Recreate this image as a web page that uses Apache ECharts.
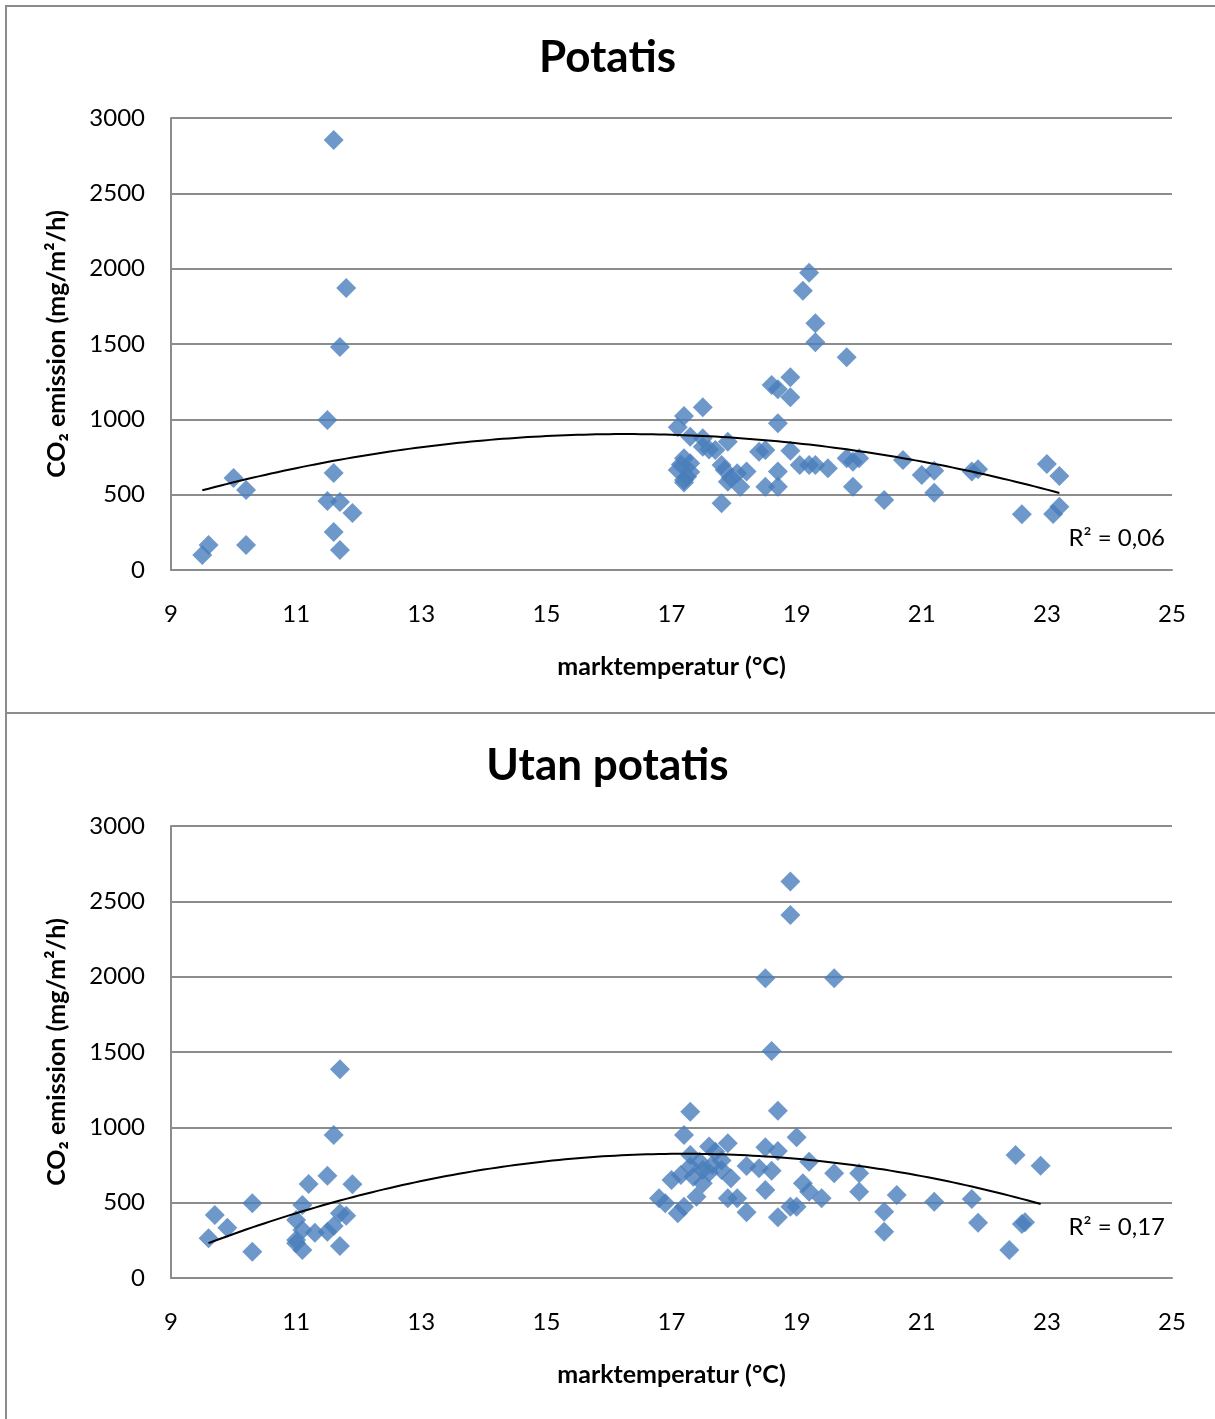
<!DOCTYPE html>
<html>
<head>
<meta charset="utf-8">
<script src="https://cdn.jsdelivr.net/npm/echarts@6/dist/echarts.min.js"></script>
<style>
  body { margin: 0; background: #fff; }
  .chart { position: absolute; left: 0; width: 1215px; }
  .line { position: absolute; background: #8c8c8c; }
</style>
</head>
<body>
<div id="Chart1" class="chart" style="top:0;height:713px"></div>
<div id="Chart2" class="chart" style="top:713px;height:706px"></div>
<div class="line" style="left:5px;top:5px;width:1210px;height:2px"></div>
<div class="line" style="left:5px;top:712px;width:1210px;height:2px"></div>
<div class="line" style="left:5px;top:5px;width:2px;height:1414px"></div>
<script>
// marktemperatur (°C) och CO2 emission (mg/m²/h)
const potatisTemp = [
  9.5, 9.6, 10.0, 10.2, 10.2, 11.6, 11.8, 11.7, 11.5, 11.6, 11.5, 11.7, 11.9, 11.6, 11.7,
  19.2, 19.1, 19.3, 19.3, 19.8, 18.9, 18.6, 18.7, 18.9, 17.5, 17.2, 17.1, 18.7, 17.3, 17.5,
  17.9, 17.7, 17.2, 18.4, 18.5, 18.9, 19.05, 17.8, 17.85, 18.2, 18.7, 17.1, 17.25, 17.3, 17.9,
  18.1, 18.5, 18.7, 17.8, 17.2, 19.3, 19.2, 19.5, 19.8, 19.9, 20.0, 19.9, 20.4, 20.7, 21.0,
  21.2, 21.2, 21.8, 21.9, 22.6, 23.0, 23.2, 23.1, 23.2, 17.3, 17.15, 17.5, 17.6, 18.05,
  17.2, 17.95
];
const potatisCO2 = [
  100, 166, 611, 531, 166, 2854, 1872, 1480, 996, 644, 458, 451, 378, 252, 133,
  1973, 1854, 1637, 1511, 1412, 1279, 1228, 1199, 1146, 1080, 1022, 947, 974, 885, 874,
  852, 796, 741, 785, 796, 792, 697, 697, 664, 653, 653, 664, 619, 708, 586,
  553, 553, 553, 443, 597, 697, 697, 675, 741, 719, 741, 553, 465, 730, 631,
  659, 513, 653, 668, 370, 704, 624, 372, 420, 650, 700, 818, 800, 642,
  580, 610
];
const utanTemp = [
  9.6, 9.7, 9.9, 10.3, 10.3, 11.1, 11.0, 11.1, 11.0, 11.1, 11.3, 11.5, 11.6, 11.7, 11.8,
  11.7, 11.7, 11.6, 11.5, 11.2, 11.9, 11.0,
  18.9, 18.9, 18.5, 19.6, 18.6, 18.7, 17.3, 17.2, 19.0, 17.6, 17.9, 18.5, 18.7, 17.3,
  19.2, 18.2, 18.4, 18.6, 19.6, 20.0, 17.0, 17.15, 17.35, 17.5, 17.65, 17.8, 17.95, 17.5,
  18.5, 19.1, 19.2, 19.4, 20.0, 16.8, 16.9, 17.1, 17.2, 17.4, 17.9, 18.05, 18.2, 18.7,
  18.9, 19.0, 20.4, 20.4, 20.6, 17.7, 17.45, 21.2, 21.8, 21.9, 22.5, 22.9, 22.6, 22.4,
  22.65, 17.6, 17.8, 17.3
];
const utanCO2 = [
  263, 418, 334, 496, 175, 484, 385, 319, 252, 186, 301, 307, 345, 429, 413,
  212, 1385, 949, 679, 624, 622, 230,
  2631, 2409, 1989, 1989, 1507, 1110, 1104, 949, 934, 872, 894, 867, 843, 816,
  772, 743, 728, 712, 695, 695, 650, 684, 672, 717, 750, 717, 662, 629,
  584, 629, 573, 529, 573, 529, 496, 429, 473, 540, 529, 529, 436, 403,
  473, 473, 440, 307, 551, 838, 772, 506, 524, 367, 816, 745, 358, 186,
  370, 700, 780, 740
];
const xTicks = [9, 11, 13, 15, 17, 19, 21, 23, 25];
const yTicks = [0, 500, 1000, 1500, 2000, 2500, 3000];
const r2Labels = ['R² = 0,06', 'R² = 0,17'];

const font = 'Lato, "Open Sans", sans-serif';

// polynomtrendlinje av grad 2 (minsta kvadrat)
function polyFit2(xs, ys) {
  let n = xs.length, s = [0, 0, 0, 0, 0], t = [0, 0, 0];
  for (let i = 0; i < n; i++) {
    let p = 1;
    for (let k = 0; k < 5; k++) { s[k] += p; if (k < 3) t[k] += p * ys[i]; p *= xs[i]; }
  }
  let m = [[s[0], s[1], s[2], t[0]], [s[1], s[2], s[3], t[1]], [s[2], s[3], s[4], t[2]]];
  for (let i = 0; i < 3; i++) {
    for (let j = i + 1; j < 3; j++) {
      let f = m[j][i] / m[i][i];
      for (let k = i; k < 4; k++) m[j][k] -= f * m[i][k];
    }
  }
  let c = [0, 0, 0];
  for (let i = 2; i >= 0; i--) {
    let v = m[i][3];
    for (let k = i + 1; k < 3; k++) v -= m[i][k] * c[k];
    c[i] = v / m[i][i];
  }
  return c;
}

function trendData(xs, ys) {
  let c = polyFit2(xs, ys);
  let lo = Math.min(...xs), hi = Math.max(...xs), out = [];
  for (let x = lo; x <= hi + 1e-9; x += 0.1) out.push([x, c[0] + c[1] * x + c[2] * x * x]);
  return out;
}

function Chart(id, title, xs, ys, r2, gridTop, r2Top) {
  const myChart = echarts.init(document.getElementById(id));
  myChart.setOption({
    animation: false,
    title: {
      text: title,
      left: 'center',
      top: gridTop - 87,
      textStyle: { fontFamily: font, fontSize: 44, fontWeight: 'bold', color: '#000' }
    },
    grid: { left: 171, right: 43, top: gridTop, height: 452 },
    xAxis: {
      type: 'value',
      min: xTicks[0],
      max: xTicks[xTicks.length - 1],
      interval: xTicks[1] - xTicks[0],
      name: 'marktemperatur (°C)',
      nameLocation: 'middle',
      nameGap: 84,
      nameTextStyle: { fontFamily: font, fontSize: 25, fontWeight: 'bold', color: '#000' },
      axisLine: { show: true, onZero: false, lineStyle: { color: '#8c8c8c', width: 2 } },
      axisTick: { show: false },
      splitLine: { show: false },
      axisLabel: { fontFamily: font, fontSize: 24, color: '#000', margin: 32 }
    },
    yAxis: {
      type: 'value',
      min: yTicks[0],
      max: yTicks[yTicks.length - 1],
      interval: yTicks[1] - yTicks[0],
      name: 'CO₂ emission (mg/m²/h)',
      nameLocation: 'middle',
      nameGap: 102,
      nameTextStyle: { fontFamily: font, fontSize: 25, fontWeight: 'bold', color: '#000' },
      axisLine: { show: true, lineStyle: { color: '#8c8c8c', width: 2 } },
      axisTick: { show: false },
      splitLine: { show: true, lineStyle: { color: '#8c8c8c', width: 2 } },
      axisLabel: { fontFamily: font, fontSize: 24, color: '#000', margin: 26, formatter: v => String(v) }
    },
    graphic: [{
      type: 'text',
      right: 50,
      top: r2Top,
      style: { text: r2, fontFamily: font, fontSize: 24, fill: '#000' }
    }],
    series: [
      {
        type: 'scatter',
        symbol: 'diamond',
        symbolSize: 20,
        itemStyle: { color: '#4a7ebb' },
        data: xs.map((x, i) => [x, ys[i]])
      },
      {
        type: 'line',
        data: trendData(xs, ys),
        showSymbol: false,
        smooth: false,
        lineStyle: { color: '#000', width: 2 }
      }
    ]
  });
}

Chart('Chart1', 'Potatis', potatisTemp, potatisCO2, r2Labels[0], 118, 526);
Chart('Chart2', 'Utan potatis', utanTemp, utanCO2, r2Labels[1], 113, 502);
</script>
</body>
</html>
